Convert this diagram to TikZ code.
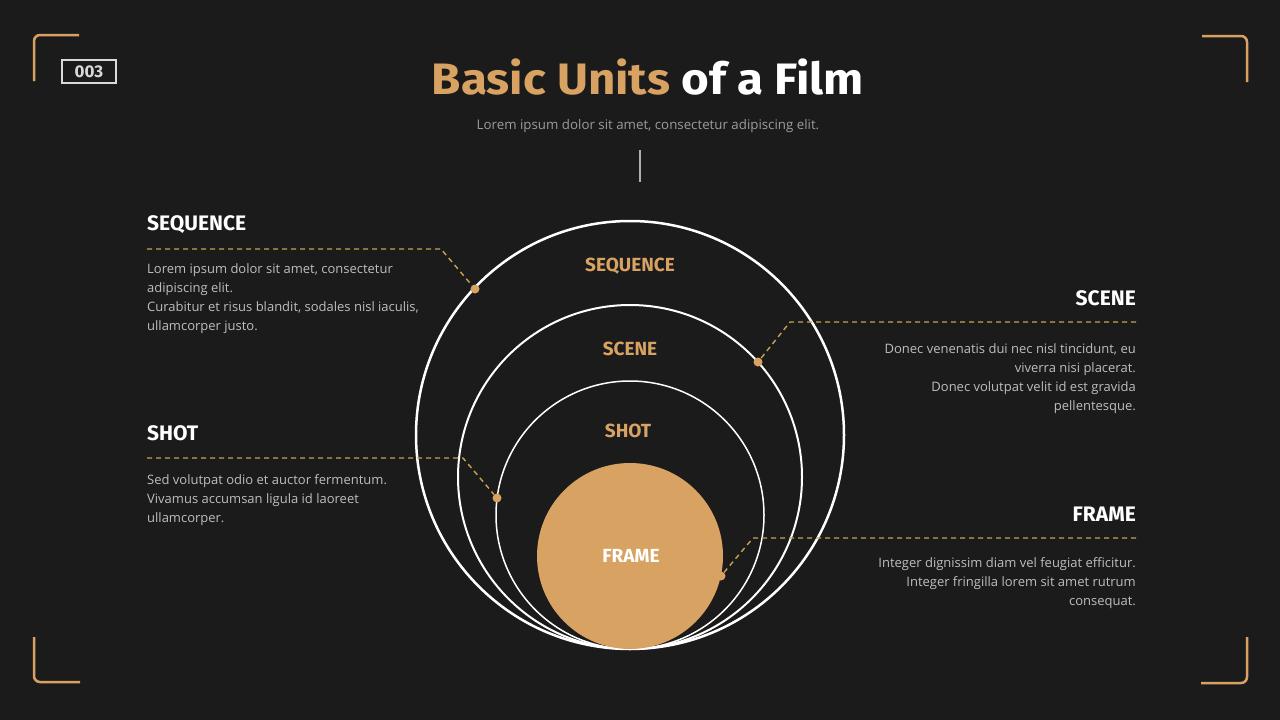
\documentclass[tikz,border=0pt]{standalone}
\usepackage{fontspec}
\setmainfont{Open Sans}
\newfontfamily\headfont{Fira Sans}
\usepackage{tikz}

\definecolor{bgdark}{HTML}{1C1B1C}
\definecolor{filmgold}{HTML}{D8A262}
\definecolor{dashgold}{HTML}{C8A352}
\definecolor{bodygray}{HTML}{BEBEBE}
\definecolor{subgray}{HTML}{9C9C9C}
\definecolor{boxgray}{HTML}{DADADA}

\begin{document}
\begin{tikzpicture}[x=1pt,y=-1pt]
  \tikzset{ring/.style = {shape=circle,draw=white,inner sep=0pt}}
  \tikzset{leader/.style = {draw=dashgold,line width=1.4pt,dash pattern=on 5pt off 4pt}}
  \tikzset{dot/.style = {shape=circle,fill=filmgold,minimum size=9pt,inner sep=0pt}}
  \tikzset{heading/.style = {font=\headfont\bfseries\fontsize{21}{24}\selectfont,text=white,inner sep=0pt}}
  \tikzset{inlabel/.style = {font=\headfont\bfseries\fontsize{19}{22}\selectfont,text=filmgold,inner sep=0pt}}
  \tikzset{body/.style = {font=\fontsize{13}{19}\selectfont,text=bodygray,inner sep=0pt}}
  \tikzset{bracket/.style = {draw=filmgold,line width=2.5pt,rounded corners=6pt}}

  \fill[bgdark] (0,0) rectangle (1280,720);
  \useasboundingbox (0,0) rectangle (1280,720);

  % corner marks
  \draw[bracket] (34,81) -- (34,35) -- (79,35);
  \draw[bracket] (1202,36) -- (1247,36) -- (1247,82);
  \draw[bracket] (34,637) -- (34,682) -- (80,682);
  \draw[bracket] (1201,683) -- (1247,683) -- (1247,637);

  \node[draw=boxgray,line width=1.5pt,minimum width=54pt,minimum height=23pt,inner sep=0pt,
        font=\headfont\bfseries\fontsize{17}{17}\selectfont,text=boxgray] (num) at (89,71.5) {003};

  % title
  \node[font=\headfont\bfseries\fontsize{44}{50}\selectfont,anchor=base,inner sep=0pt] (title) at (648,94)
    {\scalebox{1.08}[1]{\textcolor{filmgold}{Basic Units} \textcolor{white}{of a Film}}};
  \node[font=\fontsize{13.3}{16}\selectfont,text=subgray,anchor=base,inner sep=0pt] (sub) at (648,129)
    {Lorem ipsum dolor sit amet, consectetur adipiscing elit.};
  \coordinate (tick1) at (640,150);
  \coordinate (tick2) at (640,182);
  \draw[subgray!80!white,line width=1.3pt] (tick1) -- (tick2);

  % nested circles
	\node[ring,line width=2.5pt,minimum size=428pt] (seqring) at (630,435) {};
	\node[ring,line width=2pt,minimum size=344pt] (scnring) at (630,477) {};
	\node[ring,line width=1.5pt,minimum size=268pt] (shtring) at (630,515) {};
	\node[shape=circle,fill=filmgold,minimum size=186pt,inner sep=0pt] (frmdisc) at (630,556) {};

	\node[inlabel] (seqlbl) at (630,266) {SEQUENCE};
	\node[inlabel] (scnlbl) at (630,349) {SCENE};
	\node[inlabel] (shtlbl) at (628,431) {SHOT};
	\node[inlabel,text=white] (frmlbl) at (631,556) {FRAME};

  % left side
	\node[heading,anchor=west] (seqhead) at (147,225) {SEQUENCE};
	\node[body,align=left,anchor=north west] (seqtext) at (147,263.5)
	  {Lorem ipsum dolor sit amet, consectetur\\adipiscing elit.\\Curabitur et risus blandit, sodales nisl iaculis,\\ullamcorper justo.};
	\node[heading,anchor=west] (shthead) at (147,433) {SHOT};
	\node[body,align=left,anchor=north west] (shttext) at (147,474.5)
	  {Sed volutpat odio et auctor fermentum.\\Vivamus accumsan ligula id laoreet\\ullamcorper.};

  % right side
	\node[heading,anchor=east] (scnhead) at (1136,298) {SCENE};
	\node[body,align=right,anchor=north east] (scntext) at (1136,343.5)
	  {Donec venenatis dui nec nisl tincidunt, eu\\viverra nisi placerat.\\Donec volutpat velit id est gravida\\pellentesque.};
	\node[heading,anchor=east] (frmhead) at (1136,514) {FRAME};
	\node[body,align=right,anchor=north east] (frmtext) at (1136,557.5)
	  {Integer dignissim diam vel feugiat efficitur.\\Integer fringilla lorem sit amet rutrum\\consequat.};

  % leaders
	\node[dot] (seqdot) at (475,289) {};
	\node[dot] (scndot) at (758,362) {};
	\node[dot] (shtdot) at (497,498) {};
	\node[dot] (frmdot) at (721,576) {};
	\coordinate (seqa) at (147,249);  \coordinate (seqb) at (441,249);
	\coordinate (shta) at (147,458);  \coordinate (shtb) at (463,458);
	\coordinate (scna) at (1136,322); \coordinate (scnb) at (790,322);
	\coordinate (frma) at (1136,538); \coordinate (frmb) at (753,538);

       \foreach \part in {seq, sht, scn, frm}
    \draw[leader] (\part a) -- (\part b) -- (\part dot);
\end{tikzpicture}
\end{document}
